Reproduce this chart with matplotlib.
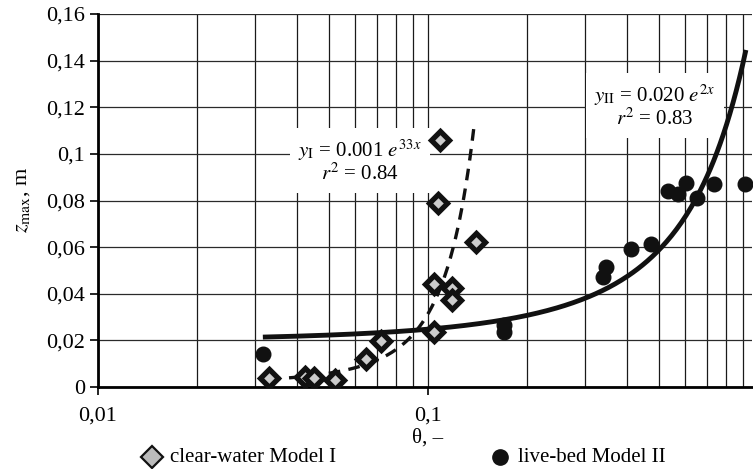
import numpy as np
import matplotlib
matplotlib.use("Agg")
import matplotlib.pyplot as plt
from matplotlib.lines import Line2D
from matplotlib.ticker import FixedLocator, NullFormatter

plt.rcParams['font.family'] = ['Liberation Serif', 'DejaVu Serif']
plt.rcParams['mathtext.fontset'] = 'stix'

# clear-water Model I (diamonds)
cw_theta = [0.033, 0.0424, 0.0452, 0.0522, 0.0649, 0.0721, 0.1042, 0.1042,
            0.118, 0.118, 0.1087, 0.107, 0.1396]
cw_z = [0.0039, 0.0042, 0.0040, 0.0030, 0.0120, 0.0197, 0.0236, 0.0442,
        0.0425, 0.0373, 0.106, 0.079, 0.062]

# live-bed Model II (circles)
lb_theta = [0.0316, 0.170, 0.170, 0.339, 0.346, 0.412, 0.474, 0.533,
            0.573, 0.605, 0.653, 0.736, 0.914]
lb_z = [0.0142, 0.0266, 0.0236, 0.0472, 0.0515, 0.0592, 0.0613, 0.0840,
        0.0828, 0.0875, 0.0810, 0.0871, 0.0871]

# trend lines (as drawn): y = a * exp(b x)
fit1_a, fit1_b, fit1_range = 0.0011, 33.5, (0.033, 0.138)
fit2_a, fit2_b, fit2_range = 0.020, 2.15, (0.0316, 0.92)

fig = plt.figure(figsize=(7.53, 4.69), dpi=100)
W, H = 753, 469
ax = fig.add_axes([98 / W, 1 - 387 / H, (752 - 98) / W, (387 - 14) / H])
ax.set_xscale('log')
ax.set_xlim(0.01, 0.96)
ax.set_ylim(0, 0.16)

# grid
ax.xaxis.set_major_locator(FixedLocator([0.01, 0.1]))
minors = [k * 0.01 for k in range(2, 10)] + [k * 0.1 for k in range(2, 10)]
ax.xaxis.set_minor_locator(FixedLocator(minors))
ax.xaxis.set_minor_formatter(NullFormatter())
ax.set_xticklabels(['0,01', '0,1'])
yt = np.arange(0, 0.161, 0.02)
ax.set_yticks(yt)
ax.set_yticklabels(['0' if v == 0 else ('%.2f' % v).rstrip('0').replace('.', ',') for v in yt])
ax.grid(True, which='both', axis='x', color='#1a1a1a', lw=0.9)
ax.grid(True, which='major', axis='y', color='#2a2a2a', lw=0.9)
ax.tick_params(axis='x', which='minor', length=0)
ax.tick_params(axis='both', which='major', length=6, width=1.2, direction='out',
               labelsize=16, color='black')
ax.tick_params(axis='x', which='major', pad=8)
for s in ['top', 'right']:
    ax.spines[s].set_visible(False)
for s in ['left', 'bottom']:
    ax.spines[s].set_linewidth(2)

# trend lines
x1 = np.logspace(np.log10(fit1_range[0]), np.log10(fit1_range[1]), 200)
ax.plot(x1, fit1_a * np.exp(fit1_b * x1), color='#111111', lw=2.4,
        dashes=(3.5, 2.5), zorder=3)
x2 = np.logspace(np.log10(fit2_range[0]), np.log10(fit2_range[1]), 300)
ax.plot(x2, fit2_a * np.exp(fit2_b * x2), color='#111111', lw=3.5, zorder=3,
        solid_capstyle='butt')

# points
ax.plot(cw_theta, cw_z, ls='none', marker='D', ms=9, mfc='#cccccc',
        mec='#111111', mew=3.8, zorder=4)
ax.plot(lb_theta, lb_z, ls='none', marker='o', ms=10.5, mfc='#111111',
        mec='#111111', zorder=4)

# annotations
bbox = dict(boxstyle='square,pad=0.4', fc='white', ec='none')
ax.text(0.0622, 0.0969, r'$y_{\rm I}$ = 0.001 $e^{33x}$' + '\n' + r'$r^{2}$ = 0.84',
        ha='center', va='center', fontsize=15, bbox=bbox, linespacing=1.0,
        zorder=2, multialignment='center')
ax.text(0.488, 0.1205, r'$y_{\rm II}$ = 0.020 $e^{2x}$' + '\n' + r'$r^{2}$ = 0.83',
        ha='center', va='center', fontsize=15, bbox=bbox, linespacing=1.0,
        zorder=2, multialignment='center')

# axis labels
fig.text(428 / W, 1 - 438 / H, 'θ, –', ha='center', va='center', fontsize=15)
fig.text(22 / W, 1 - 200 / H, r'$z_{\rm max}$, m', ha='center', va='center',
         fontsize=16, rotation=90)

# legend (manual)
fig.add_artist(Line2D([152 / W], [1 - 457 / H], marker='D', ms=11, mfc='#bbbbbb',
                      mec='#111111', mew=1.6, ls='none', transform=fig.transFigure))
fig.text(170 / W, 1 - 457 / H, 'clear-water Model I', ha='left', va='center',
         fontsize=15)
fig.add_artist(Line2D([500 / W], [1 - 457 / H], marker='o', ms=11, mfc='#111111',
                      mec='#111111', ls='none', transform=fig.transFigure))
fig.text(518 / W, 1 - 457 / H, 'live-bed Model II', ha='left', va='center',
         fontsize=15)

fig.savefig('out.png', dpi=100)
